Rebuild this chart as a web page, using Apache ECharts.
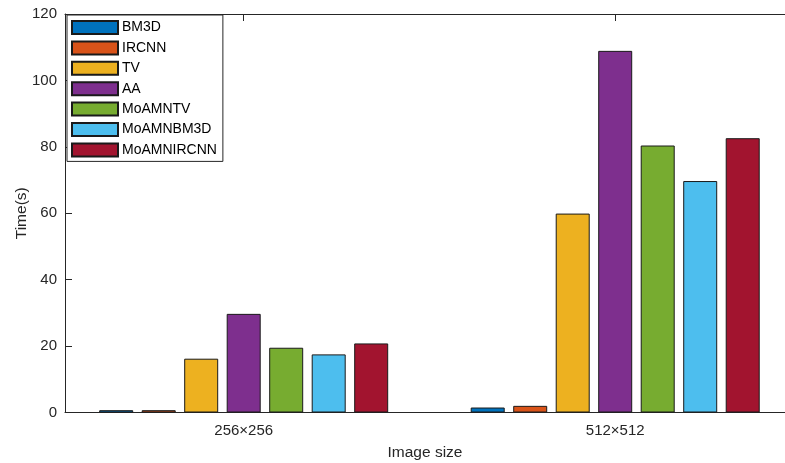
<!DOCTYPE html>
<html>
<head>
<meta charset="utf-8">
<script src="https://cdn.jsdelivr.net/npm/echarts@6/dist/echarts.min.js"></script>
<style>
  html, body { margin: 0; padding: 0; background: #fff; }
  #chart { width: 785px; height: 463px; }
</style>
</head>
<body>
<div id="chart"></div>
<script>
// Image sizes (groups) and the denoising methods compared
const sizes = ['256×256', '512×512'];
const sizePos = [1, 2];
const methods = ['BM3D', 'IRCNN', 'TV', 'AA', 'MoAMNTV', 'MoAMNBM3D', 'MoAMNIRCNN'];

// Run time in seconds for each method, per image size
const time256 = [0.7, 0.7, 16.2, 29.7, 19.5, 17.5, 20.8];
const time512 = [1.5, 2.0, 59.9, 108.9, 80.4, 69.7, 82.6];

// Y-axis range
const yMin = 0, yMax = 120, yStep = 20;

const palette = ['#0072BD', '#D95319', '#EDB120', '#7E2F8E', '#77AC30', '#4DBEEE', '#A2142F'];
const font = 'Liberation Sans, Arial, Helvetica, sans-serif';
const ink = '#262626';

const chart = echarts.init(document.getElementById('chart'), null, { renderer: 'canvas' });

const series = methods.map((name, i) => ({
  name: name,
  type: 'bar',
  xAxisIndex: 0,
  barWidth: 34,
  barGap: '25%',
  itemStyle: { color: palette[i], borderColor: '#1a1a1a', borderWidth: 1 },
  emphasis: { disabled: true },
  data: [[sizePos[0], time256[i]], [sizePos[1], time512[i]]]
}));

// x range of the plot box; the box runs off the right edge of the canvas
const xMin = 0.519, xMax = 2.457;

chart.setOption({
  animation: false,
  backgroundColor: '#fff',
  textStyle: { fontFamily: font },
  grid: { left: 65, top: 14, right: 0, height: 398.5, containLabel: false, outerBoundsMode: 'none' },
  legend: {
    orient: 'vertical',
    left: 67,
    top: 15,
    padding: [5, 6, 4, 4],
    itemWidth: 46,
    itemHeight: 13,
    itemGap: 5.4,
    borderColor: ink,
    borderWidth: 1,
    backgroundColor: '#fff',
    borderRadius: 0,
    icon: 'rect',
    textStyle: { fontSize: 14, color: '#000', fontFamily: font, padding: [0, 0, 0, -1] },
    data: methods
  },
  xAxis: [{
    type: 'value',
    position: 'bottom',
    min: xMin,
    max: xMax,
    name: 'Image size',
    nameLocation: 'middle',
    nameGap: 32,
    nameMoveOverlap: false,
    nameTextStyle: { fontSize: 15.5, color: ink, fontFamily: font },
    axisLine: { show: true, onZero: false, lineStyle: { color: ink, width: 1 } },
    axisTick: { show: true, inside: true, length: 7, customValues: sizePos, lineStyle: { color: ink } },
    axisLabel: {
      show: true, margin: 11, fontSize: 15, color: ink, fontFamily: font,
      customValues: sizePos,
      formatter: v => sizes[sizePos.indexOf(Math.round(v))] || ''
    },
    splitLine: { show: false }
  }, {
    type: 'value',
    position: 'top',
    min: xMin,
    max: xMax,
    axisLine: { show: true, onZero: false, lineStyle: { color: ink, width: 1 } },
    axisTick: { show: true, inside: true, length: 7, customValues: sizePos, lineStyle: { color: ink } },
    axisLabel: { show: false },
    splitLine: { show: false }
  }],
  yAxis: {
    type: 'value',
    min: yMin,
    max: yMax,
    interval: yStep,
    name: 'Time(s)',
    nameLocation: 'middle',
    nameGap: 35,
    nameMoveOverlap: false,
    nameRotate: 90,
    nameTextStyle: { fontSize: 15.5, color: ink, fontFamily: font },
    axisLine: { show: true, lineStyle: { color: ink, width: 1 } },
    axisTick: { show: true, inside: true, length: 7, lineStyle: { color: ink } },
    axisLabel: { margin: 8, fontSize: 15, color: ink, fontFamily: font },
    splitLine: { show: false }
  },
  series: series
});
</script>
</body>
</html>
